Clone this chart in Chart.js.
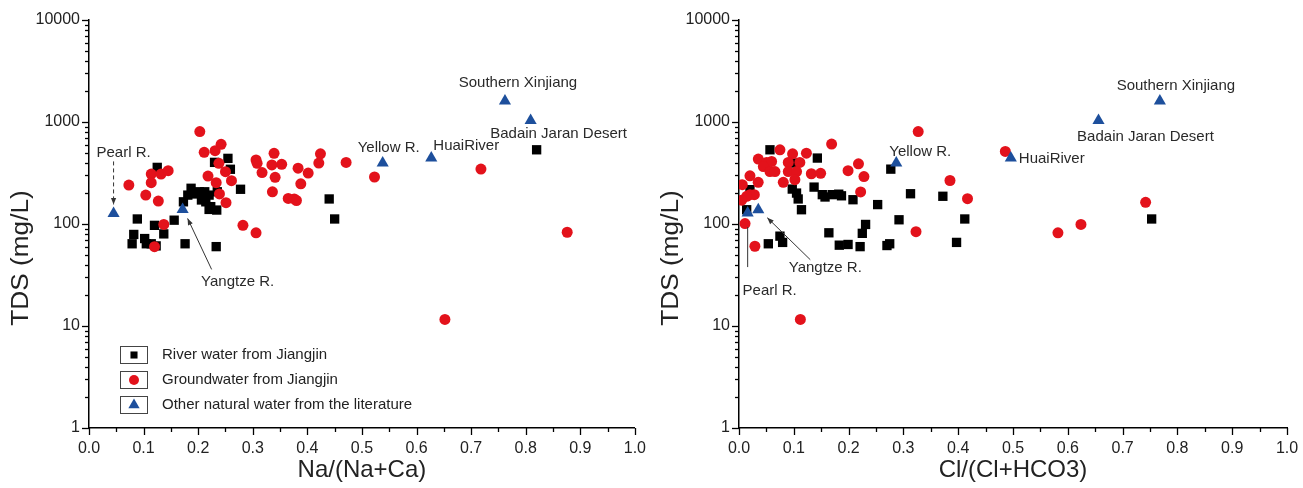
<!DOCTYPE html>
<html><head><meta charset="utf-8">
<script src="https://cdn.jsdelivr.net/npm/chart.js@4.4.1/dist/chart.umd.min.js"></script>
<style>
html,body{margin:0;padding:0;background:#fff;}
#wrap{position:relative;width:1303px;height:488px;overflow:hidden;}
.box{position:absolute;top:0;height:488px;}
</style></head><body>
<div id="wrap">
<div class="box" style="left:0;width:650px"><canvas id="c1" width="650" height="488"></canvas></div>
<div class="box" style="left:650px;width:653px"><canvas id="c2" width="653" height="488"></canvas></div>
</div>
<script>
// ---------- DATA ----------
const xTickLabels = ['0.0','0.1','0.2','0.3','0.4','0.5','0.6','0.7','0.8','0.9','1.0'];
const yTickLabels = ['1','10','100','1000','10000'];
const yTitle = 'TDS (mg/L)';
const seriesNames = ['River water from Jiangjin','Groundwater from Jiangjin','Other natural water from the literature'];
const litNames = ['Pearl R.','Yangtze R.','Yellow R.','HuaiRiver','Southern Xinjiang','Badain Jaran Desert'];

// Left: Na/(Na+Ca) vs TDS
const leftRiverX = [0.125,0.2545,0.259,0.230,0.2776,0.187,0.173,0.181,0.193,0.202,0.212,0.22,0.206,0.214,0.223,0.22,0.234,0.235,0.156,0.0885,0.12,0.137,0.082,0.079,0.102,0.105,0.114,0.123,0.176,0.233,0.44,0.45,0.82];
const leftRiverY = [359,440,344,402,219,224,165,192,197,207,207,192,172,165,148,139,137,207,109,112,97,80,79,64,72,64,64,61,64,60,176,112,534];
const leftGroundX = [0.203,0.242,0.231,0.211,0.238,0.25,0.218,0.233,0.261,0.239,0.251,0.114,0.132,0.145,0.114,0.073,0.104,0.127,0.137,0.12,0.282,0.306,0.306,0.308,0.339,0.353,0.335,0.317,0.341,0.336,0.365,0.383,0.4015,0.388,0.376,0.38,0.424,0.421,0.471,0.523,0.718,0.876,0.652];
const leftGroundY = [805,604,523,504,393,326,295,254,266,197,162,309,309,333,254,241,192,168,99,60,97,82,424,393,493,385,379,319,287,207,178,353,316,248,176,170,488,396,401,289,346,83,11.6];
const leftLitX = [0.045,0.1715,0.538,0.627,0.762,0.809];
const leftLitY = [127,139,396,443,1607,1032];

// Right: Cl/(Cl+HCO3) vs TDS
const rightRiverX = [0.0565,0.143,0.102,0.277,0.0972,0.105,0.108,0.114,0.137,0.152,0.157,0.170,0.182,0.187,0.208,0.253,0.313,0.372,0.292,0.231,0.225,0.164,0.0747,0.0796,0.0535,0.183,0.199,0.221,0.27,0.275,0.397,0.02,0.014,0.412,0.753];
const rightRiverY = [534,443,396,345,220,201,176,138,230,194,184,194,196,189,173,155,198,187,110,99,81,82,76,66,64,62,63,60,61.5,64,66,217,138,112,112];
const rightGroundX = [0.327,0.169,0.0747,0.0978,0.123,0.0352,0.0504,0.0595,0.0444,0.0565,0.0656,0.0899,0.111,0.0899,0.105,0.102,0.0808,0.02,0.035,0.006,0.02,0.028,0.014,0.005,0.011,0.029,0.132,0.149,0.199,0.218,0.228,0.222,0.112,0.323,0.385,0.417,0.486,0.582,0.624,0.742];
const rightGroundY = [806,607,534,488,495,433,401,410,366,327,327,401,401,327,327,272,256,297,256,243,194,194,187,171,101,60.5,311,314,333,389,292,206,11.6,84,267,177,514,82,99,163];
const rightLitX = [0.0158,0.0352,0.287,0.496,0.768,0.656];
const rightLitY = [128,138,396,443,1607,1032];

// ---------- STYLE ----------
const FONT = "'Liberation Sans', Arial, sans-serif";
Chart.defaults.font.family = FONT;
const COL_BLACK = '#000000', COL_RED = '#e3121b', COL_BLUE = '#1d4f9c', TXT = '#222222';

// label placement relative to the triangle's pixel position (style, not data)
const leftAnn = {
  'Pearl R.': {dx: 10, dy: -61, align: 'center', arrow: {x1: 0, y1: -52, x2: 0, y2: -9, dash: [4,3], head: true}},
  'Yangtze R.': {dx: 55, dy: 72, align: 'center', arrow: {x1: 29, y1: 60, x2: 5, y2: 9, head: true}},
  'Yellow R.': {dx: 6, dy: -15, align: 'center'},
  'HuaiRiver': {dx: 35, dy: -12, align: 'center'},
  'Southern Xinjiang': {dx: 13, dy: -18, align: 'center'},
  'Badain Jaran Desert': {dx: 28, dy: 13, align: 'center'}
};
const rightAnn = {
  'Pearl R.': {dx: 22, dy: 78, align: 'center', arrow: {x1: 0, y1: 54, x2: 0, y2: 14, head: false}},
  'Yangtze R.': {dx: 67, dy: 58, align: 'center', arrow: {x1: 52, y1: 50, x2: 9, y2: 8, head: true}},
  'Yellow R.': {dx: 24, dy: -11, align: 'center'},
  'HuaiRiver': {dx: 8, dy: 1, align: 'left'},
  'Southern Xinjiang': {dx: 16, dy: -15, align: 'center'},
  'Badain Jaran Desert': {dx: 47, dy: 16, align: 'center'}
};

function pts(xs, ys) { return xs.map((x, i) => ({x: x, y: ys[i]})); }

function drawArrow(ctx, x1, y1, x2, y2, dash, head) {
  ctx.save();
  ctx.strokeStyle = '#333'; ctx.fillStyle = '#333'; ctx.lineWidth = 1;
  ctx.setLineDash(dash || []);
  ctx.beginPath(); ctx.moveTo(x1, y1); ctx.lineTo(x2, y2); ctx.stroke();
  ctx.setLineDash([]);
  if (head) {
    const a = Math.atan2(y2 - y1, x2 - x1), L = 7, w = 0.38;
    ctx.beginPath();
    ctx.moveTo(x2, y2);
    ctx.lineTo(x2 - L * Math.cos(a - w), y2 - L * Math.sin(a - w));
    ctx.lineTo(x2 - L * Math.cos(a + w), y2 - L * Math.sin(a + w));
    ctx.closePath(); ctx.fill();
  }
  ctx.restore();
}

const decorPlugin = {
  id: 'decor',
  afterDraw(chart) {
    const ctx = chart.ctx, xs = chart.scales.x, ys = chart.scales.y, ca = chart.chartArea;
    ctx.save();
    ctx.strokeStyle = '#000'; ctx.lineWidth = 1.3;
    // y tick marks (outward)
    for (let e = 0; e <= 4; e++) {
      for (let s = 1; s <= (e === 4 ? 1 : 9); s++) {
        const p = Math.round(ys.getPixelForValue(s * Math.pow(10, e))) + 0.5;
        const len = s === 1 ? 7 : 4;
        ctx.beginPath(); ctx.moveTo(ca.left - len, p); ctx.lineTo(ca.left, p); ctx.stroke();
      }
    }
    // x tick marks (outward)
    for (let i = 0; i <= 20; i++) {
      const p = Math.round(xs.getPixelForValue(i * 0.05)) + 0.5;
      const len = i % 2 === 0 ? 7 : 4;
      ctx.beginPath(); ctx.moveTo(p, ca.bottom); ctx.lineTo(p, ca.bottom + len); ctx.stroke();
    }
    ctx.restore();

    // y axis title
    ctx.save();
    ctx.translate(22, (ca.top + ca.bottom) / 2 + 34);
    ctx.rotate(-Math.PI / 2);
    ctx.scale(1.14, 1);
    ctx.font = '23px ' + FONT; ctx.fillStyle = TXT; ctx.textAlign = 'center'; ctx.textBaseline = 'middle';
    ctx.fillText(yTitle, 0, 0);
    ctx.restore();

    // annotations for literature points
    const ann = chart.options.plugins.decor.ann;
    const meta = chart.getDatasetMeta(0);
    ctx.save();
    ctx.font = '15px ' + FONT; ctx.fillStyle = '#2a2a2a'; ctx.textBaseline = 'middle';
    meta.data.forEach((el, i) => {
      const name = chart.data.datasets[0].names[i];
      const a = ann[name]; if (!a) return;
      ctx.textAlign = a.align;
      ctx.fillText(name, el.x + a.dx, el.y + a.dy);
      if (a.arrow) drawArrow(ctx, el.x + a.arrow.x1, el.y + a.arrow.y1, el.x + a.arrow.x2, el.y + a.arrow.y2, a.arrow.dash, a.arrow.head);
    });
    ctx.restore();

    // legend (left chart only)
    if (chart.options.plugins.decor.legend) {
      const rows = [
        {ds: 2, style: 'rect', r: 5},
        {ds: 1, style: 'circle', r: 5},
        {ds: 0, style: 'triangle', r: 6.5}
      ];
      ctx.save();
      rows.forEach((row, k) => {
        const cy = ca.bottom - 73 + k * 25;
        const bx = ca.left + 31;
        ctx.strokeStyle = '#444'; ctx.lineWidth = 1;
        ctx.strokeRect(bx + 0.5, cy - 8.5, 27, 17);
        const d = chart.data.datasets[row.ds];
        ctx.fillStyle = d.backgroundColor; ctx.strokeStyle = d.backgroundColor;
        Chart.helpers.drawPoint(ctx, {pointStyle: row.style, radius: row.r, rotation: 0, borderWidth: 0}, bx + 14, cy);
        ctx.fillStyle = TXT; ctx.font = '15px ' + FONT; ctx.textAlign = 'left'; ctx.textBaseline = 'middle';
        ctx.fillText(d.label, bx + 42, cy);
      });
      ctx.restore();
    }
  }
};

function makeChart(id, title, river, ground, lit, ann, legend, padRight) {
  return new Chart(document.getElementById(id), {
    type: 'scatter',
    data: {
      datasets: [
        {label: seriesNames[2], names: litNames, data: lit, pointStyle: 'triangle', pointRadius: 7,
         backgroundColor: COL_BLUE, borderColor: COL_BLUE, borderWidth: 0, order: 0},
        {label: seriesNames[1], data: ground, pointStyle: 'circle', pointRadius: 5.5,
         backgroundColor: COL_RED, borderColor: COL_RED, borderWidth: 0, order: 1},
        {label: seriesNames[0], data: river, pointStyle: 'rect', pointRadius: 6.6,
         backgroundColor: COL_BLACK, borderColor: COL_BLACK, borderWidth: 0, order: 2}
      ]
    },
    options: {
      responsive: false, animation: false, events: [],
      layout: {padding: {top: 20, right: padRight, left: 0, bottom: 0}},
      plugins: {legend: {display: false}, tooltip: {enabled: false}, decor: {ann: ann, legend: legend}},
      scales: {
        x: {
          type: 'linear', min: 0, max: 1,
          border: {display: true, color: '#000', width: 1.5},
          grid: {display: false, drawTicks: true, tickLength: 7},
          ticks: {stepSize: 0.1, autoSkip: false, maxRotation: 0, color: TXT, padding: 4,
                  font: {size: 16}, callback: (v) => xTickLabels[Math.round(v * 10)]},
          title: {display: true, text: title, color: TXT, font: {size: 24}, padding: {top: 0, bottom: 3}},
          afterFit: (s) => { s.height = 60; }
        },
        y: {
          type: 'logarithmic', min: 1, max: 10000,
          border: {display: true, color: '#000', width: 1.5},
          grid: {display: false, drawTicks: true, tickLength: 7},
          ticks: {autoSkip: false, color: TXT, padding: 2, font: {size: 16},
                  callback: (v) => { const l = Math.log10(v); return Math.abs(l - Math.round(l)) < 1e-9 ? yTickLabels[Math.round(l)] : ''; }},
          title: {display: false},
          afterFit: (s) => { s.width = 89; }
        }
      }
    },
    plugins: [decorPlugin]
  });
}

makeChart('c1', 'Na/(Na+Ca)', pts(leftRiverX, leftRiverY), pts(leftGroundX, leftGroundY), pts(leftLitX, leftLitY), leftAnn, true, 14);
makeChart('c2', 'Cl/(Cl+HCO3)', pts(rightRiverX, rightRiverY), pts(rightGroundX, rightGroundY), pts(rightLitX, rightLitY), rightAnn, false, 16);
</script>
</body></html>
